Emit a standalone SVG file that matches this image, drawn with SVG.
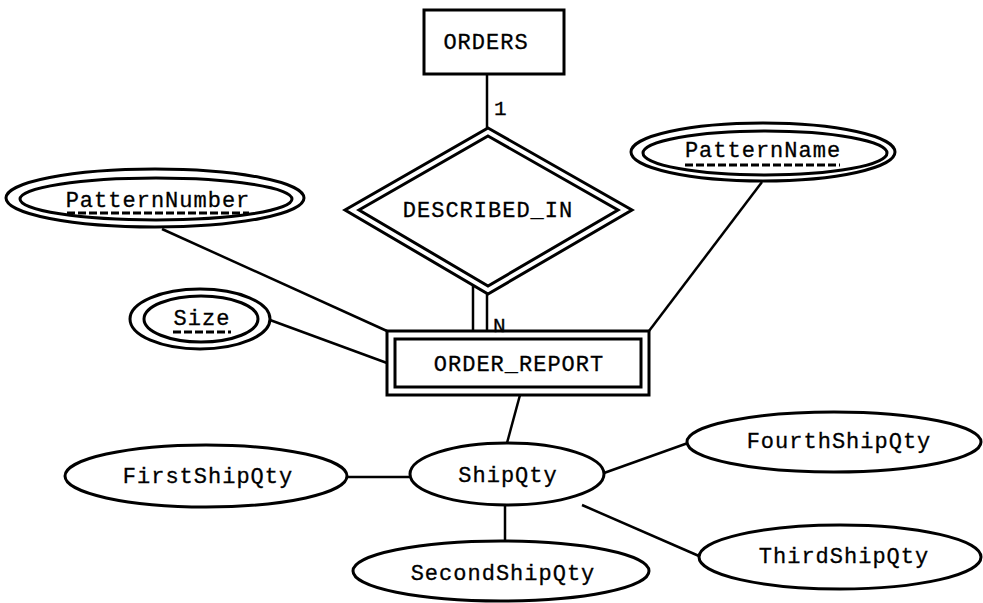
<svg xmlns="http://www.w3.org/2000/svg" width="983" height="603" viewBox="0 0 983 603">
<style>
  .shape { fill: none; stroke: #000; stroke-width: 3; }
  .edge { stroke: #000; stroke-width: 2.5; fill: none; }
  .lbl { font-family: "Liberation Mono", "DejaVu Sans Mono", monospace; font-size: 22px; letter-spacing: 1px; fill: #000; stroke: #000; stroke-width: 0.3; text-anchor: middle; }
  .card { font-family: "Liberation Mono", "DejaVu Sans Mono", monospace; font-size: 21px; fill: #000; stroke: #000; stroke-width: 0.3; }
  .key { stroke: #000; stroke-width: 3; stroke-dasharray: 8 3; fill: none; }
</style>
<rect width="983" height="603" fill="#fff"/>
<g id="connectors">
  <line class="edge" x1="487" y1="74" x2="487" y2="128"/>
  <line class="edge" x1="473" y1="286" x2="473" y2="331"/>
  <line class="edge" x1="487" y1="293" x2="487" y2="331"/>
  <line class="edge" x1="162" y1="229" x2="387" y2="331"/>
  <line class="edge" x1="270" y1="320" x2="387" y2="363"/>
  <line class="edge" x1="762" y1="182" x2="649" y2="331"/>
  <line class="edge" x1="520" y1="395" x2="507" y2="443"/>
  <line class="edge" x1="347" y1="477" x2="410" y2="477"/>
  <line class="edge" x1="505" y1="505" x2="505" y2="541"/>
  <line class="edge" x1="604" y1="473" x2="688" y2="443"/>
  <line class="edge" x1="582" y1="505" x2="699" y2="556"/>
  <text class="card" x="494" y="115">1</text>
  <text class="card" x="493" y="332">N</text>
</g>
<g id="ORDERS">
  <rect class="shape" x="424" y="10" width="140" height="64"/>
  <text class="lbl" x="486" y="49">ORDERS</text>
</g>
<g id="DESCRIBED_IN">
  <polygon class="shape" points="488,128 632,210 488,294 345,210"/>
  <polygon class="shape" points="488,136 618,210 488,286 359,210"/>
  <text class="lbl" x="488" y="217">DESCRIBED_IN</text>
</g>
<g id="ORDER_REPORT">
  <rect class="shape" x="387" y="331" width="262" height="64"/>
  <rect class="shape" x="395" y="339" width="246" height="48"/>
  <text class="lbl" x="519" y="371">ORDER_REPORT</text>
</g>
<g id="PatternNumber">
  <ellipse class="shape" cx="155" cy="198" rx="149" ry="29"/>
  <ellipse class="shape" cx="156" cy="199" rx="136" ry="21"/>
  <text class="lbl" x="158" y="207">PatternNumber</text>
  <line class="key" x1="67" y1="213" x2="249" y2="213"/>
</g>
<g id="PatternName">
  <ellipse class="shape" cx="763" cy="152" rx="132" ry="29"/>
  <ellipse class="shape" cx="765" cy="153" rx="122" ry="22"/>
  <text class="lbl" x="763" y="157">PatternName</text>
  <line class="key" x1="685" y1="165" x2="840" y2="165"/>
</g>
<g id="Size">
  <ellipse class="shape" cx="200" cy="319" rx="70" ry="30"/>
  <ellipse class="shape" cx="201" cy="319" rx="57" ry="23"/>
  <text class="lbl" x="202" y="325">Size</text>
  <line class="key" x1="173" y1="332" x2="231" y2="332"/>
</g>
<g id="ShipQty">
  <ellipse class="shape" cx="507" cy="474" rx="97" ry="31"/>
  <text class="lbl" x="508" y="482">ShipQty</text>
</g>
<g id="FirstShipQty">
  <ellipse class="shape" cx="206" cy="476" rx="141" ry="31"/>
  <text class="lbl" x="208" y="483">FirstShipQty</text>
</g>
<g id="SecondShipQty">
  <ellipse class="shape" cx="501" cy="571" rx="148" ry="30"/>
  <text class="lbl" x="503" y="580">SecondShipQty</text>
</g>
<g id="FourthShipQty">
  <ellipse class="shape" cx="834" cy="442" rx="147" ry="30"/>
  <text class="lbl" x="839" y="448">FourthShipQty</text>
</g>
<g id="ThirdShipQty">
  <ellipse class="shape" cx="840" cy="557" rx="141" ry="32"/>
  <text class="lbl" x="844" y="563">ThirdShipQty</text>
</g>
</svg>
